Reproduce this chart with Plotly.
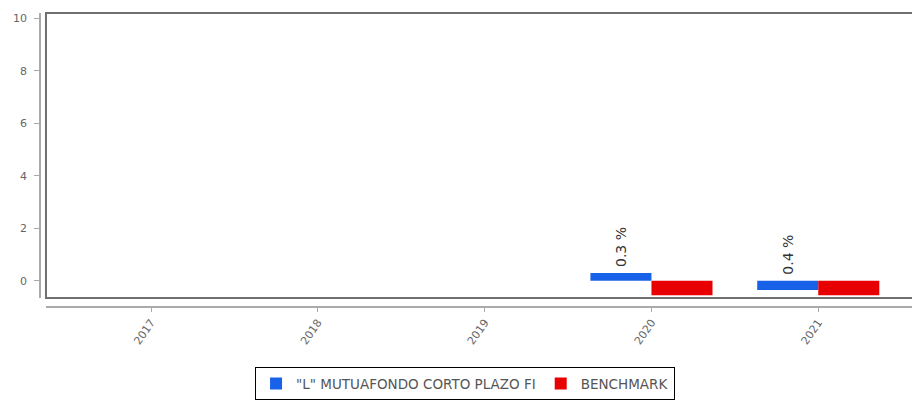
import plotly.graph_objects as go

years = ["2017", "2018", "2019", "2020", "2021"]
fund_name = '"L" MUTUAFONDO CORTO PLAZO FI'
bench_name = "BENCHMARK"
fund_values = [None, None, None, 0.3, -0.35]
bench_values = [None, None, None, -0.55, -0.55]
fund_labels = ["", "", "", "0.3 %", "0.4 %"]
y_ticks = [0, 2, 4, 6, 8, 10]

BLUE = "#1862ea"
RED = "#e80000"
FONT = "DejaVu Sans"

fig = go.Figure()
fig.add_trace(go.Bar(x=years, y=fund_values, name=fund_name,
                     marker=dict(color=BLUE, line=dict(width=0))))
fig.add_trace(go.Bar(x=years, y=bench_values, name=bench_name,
                     marker=dict(color=RED, line=dict(width=0))))

for i, (v, lab) in enumerate(zip(fund_values, fund_labels)):
    if lab:
        fig.add_annotation(x=i, y=max(v, 0) + 0.15, text=lab, textangle=-90,
                           showarrow=False, xshift=-30.5, yanchor="bottom",
                           xanchor="center",
                           font=dict(family=FONT, size=14, color="#333"))

fig.add_shape(type="rect", xref="x domain", yref="y domain",
              x0=0, x1=1.05, y0=0, y1=1,
              line=dict(color="#707070", width=2), layer="above")

fig.update_layout(
    width=912, height=395,
    margin=dict(l=32, r=0, t=5, b=96, autoexpand=False),
    paper_bgcolor="white", plot_bgcolor="white",
    barmode="group", bargap=0.268, bargroupgap=0,
    showlegend=True,
    legend=dict(orientation="h", x=0.483, xanchor="center", y=-0.205, yanchor="top",
                bordercolor="#000", borderwidth=1, bgcolor="white",
                font=dict(family=FONT, size=13.5, color="#555"),
                itemsizing="constant", tracegroupgap=0, itemwidth=30),
    xaxis=dict(domain=[0.0068, 1], anchor="free", position=0,
               type="category", range=[-0.63, 4.61],
               showline=True, linecolor="#aaa", linewidth=1.5,
               ticks="outside", ticklen=4, tickcolor="#aaa",
               tickangle=-55, showgrid=False, zeroline=False,
               tickfont=dict(family=FONT, size=11, color="#666")),
    yaxis=dict(domain=[0.031, 1], anchor="free", position=0,
               range=[-0.65, 10.21], tickvals=y_ticks,
               showline=True, linecolor="#aaa", linewidth=1.5,
               ticks="outside", ticklen=5, tickcolor="#aaa",
               ticklabelstandoff=5,
               showgrid=False, zeroline=False,
               tickfont=dict(family=FONT, size=11, color="#666")),
)

fig.write_html("out.html")
